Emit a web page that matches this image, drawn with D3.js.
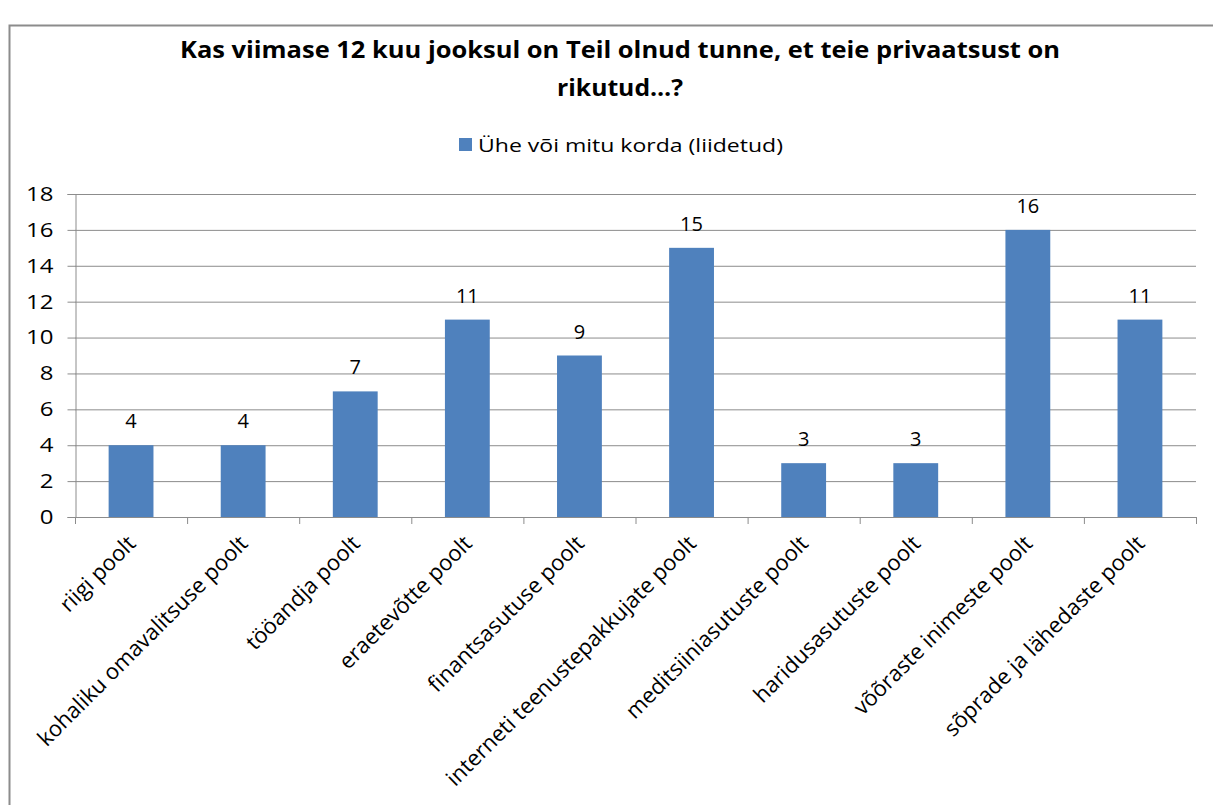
<!DOCTYPE html>
<html><head><meta charset="utf-8">
<script src="https://cdn.jsdelivr.net/npm/d3@7"></script>
<style>body{margin:0;background:#fff}svg{display:block}text{font-family:"Open Sans",sans-serif;fill:#000}</style>
</head><body><svg id="c" width="1213" height="805"></svg>
<script>
const categories = ["riigi poolt","kohaliku omavalitsuse poolt","tööandja poolt","eraetevõtte poolt","finantsasutuse poolt","interneti teenustepakkujate poolt","meditsiiniasutuste poolt","haridusasutuste poolt","võõraste inimeste poolt","sõprade ja lähedaste poolt"];
const values = [4,4,7,11,9,15,3,3,16,11];
const yTicks = [0,2,4,6,8,10,12,14,16,18];
const titleLines = ["Kas viimase 12 kuu jooksul on Teil olnud tunne, et teie privaatsust on","rikutud…?"];
const seriesName = "Ühe või mitu korda (liidetud)";

const svg = d3.select("#c");
svg.append("rect").attr("x",9.5).attr("y",25.5).attr("width",1220).attr("height",800)
  .attr("fill","#fff").attr("stroke","#8c8c8c").attr("stroke-width",2);

const L=75, R=1196, T=194, B=517;
const x = d3.scaleBand().domain(categories).range([L,R]).paddingInner(0.6).paddingOuter(0.3);
const y = d3.scaleLinear().domain([0,18]).range([B,T]);

const titleW = [880, 126];
svg.selectAll("text.title").data(titleLines).join("text").attr("class","title")
  .attr("x",620).attr("y",(d,i)=>58+i*38).attr("text-anchor","middle")
  .attr("textLength",(d,i)=>titleW[i]).attr("lengthAdjust","spacingAndGlyphs")
  .style("font-weight","bold").style("font-size","23px").text(d=>d);

// legend
svg.append("rect").attr("x",459).attr("y",138).attr("width",13).attr("height",13).attr("fill","#4f81bd");
svg.append("text").attr("x",478).attr("y",152).attr("textLength",305).attr("lengthAdjust","spacingAndGlyphs")
  .style("font-size","19px").text(seriesName);

// grid
svg.append("g").selectAll("line").data(yTicks).join("line")
  .attr("x1",L).attr("x2",R).attr("y1",d=>y(d)+0.5).attr("y2",d=>y(d)+0.5)
  .attr("stroke","#8c8c8c").attr("stroke-width",1);

const yAxis = svg.append("g").attr("transform",`translate(${L+0.5},0)`)
  .call(d3.axisLeft(y).tickValues(yTicks).tickSize(8).tickPadding(14));
yAxis.select(".domain").attr("stroke","#8c8c8c");
yAxis.selectAll(".tick line").attr("stroke","#8c8c8c");
yAxis.selectAll(".tick text").style("font-size","20px").style("font-family","'Open Sans',sans-serif").attr("fill","#000")
  .each(function(){ const w=this.getComputedTextLength(); d3.select(this).attr("textLength",w*1.2).attr("lengthAdjust","spacingAndGlyphs"); });

// bars
svg.append("g").selectAll("rect").data(values).join("rect")
  .attr("x",(d,i)=>x(categories[i])).attr("width",x.bandwidth())
  .attr("y",d=>y(d)).attr("height",d=>B-y(d)).attr("fill","#4f81bd");

svg.append("g").selectAll("text").data(values).join("text")
  .attr("x",(d,i)=>x(categories[i])+x.bandwidth()/2).attr("y",d=>y(d)-17)
  .attr("text-anchor","middle").style("font-size","20px").text(d=>d);

// x axis
const step = (R-L)/categories.length;
const xb = svg.append("g");
xb.append("line").attr("x1",L).attr("x2",R).attr("y1",B+0.5).attr("y2",B+0.5).attr("stroke","#8c8c8c");
xb.selectAll("line.t").data(d3.range(categories.length+1)).join("line").attr("class","t")
  .attr("x1",i=>L+0.5+i*step).attr("x2",i=>L+0.5+i*step).attr("y1",B).attr("y2",B+7).attr("stroke","#8c8c8c");
xb.selectAll("text").data(categories).join("text")
  .attr("transform",d=>`translate(${x(d)+x.bandwidth()/2+6},${B+28}) rotate(-45)`)
  .attr("text-anchor","end").style("font-size","22px").text(d=>d);
</script></body></html>
